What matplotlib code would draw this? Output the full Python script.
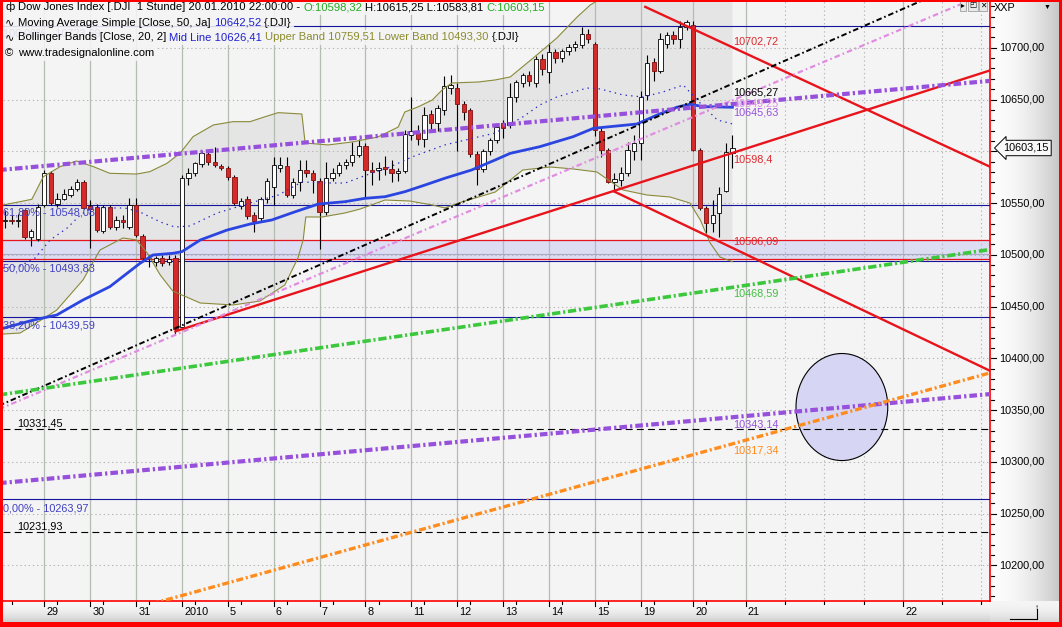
import numpy as np
import matplotlib
matplotlib.use("Agg")
import matplotlib.pyplot as plt
from matplotlib.patches import Rectangle, Ellipse
from matplotlib.transforms import blended_transform_factory as blend

W, H = 1062, 627
plt.rcParams['font.family'] = ['Liberation Sans', 'DejaVu Sans']
plt.rcParams['lines.scale_dashes'] = False
FS = 7.8
FS_LEG = 8.1

# x axis: one slot per hourly bar, slot 0 = first bar of 29 Dec 2009
day_slot = [0, 7, 14, 21, 28, 35, 42, 49, 56, 63, 70, 77, 84, 91, 99, 107, 131]
day_text = ['29', '30', '31', '2010', '5', '6', '7', '8', '11', '12', '13', '14',
            '15', '19', '20', '21', '22']
minor_slot = [-5, 2, 9, 16, 23, 30, 37, 44, 51, 58, 65, 72, 79, 86, 93, 101,
              113, 119, 125, 137, 143]
future_grid = [113, 119, 125, 137, 143]

# hourly candles of the Dow Jones index, 28 Dec 2009 - 20 Jan 2010
bar_slot = np.arange(-6, 106)
opn = [10533, 10534, 10533, 10543, 10517, 10515,
       10548, 10579, 10549, 10554, 10558, 10564, 10570,
       10547, 10546, 10523, 10546, 10527, 10534, 10527,
       10548, 10518, 10497, 10493, 10497, 10493, 10497,
       10430, 10574, 10579, 10588, 10597, 10590, 10586,
       10584, 10575, 10547, 10554, 10538, 10536, 10554,
       10565, 10584, 10586, 10558, 10570, 10582, 10579,
       10571, 10541, 10574, 10579, 10587, 10590, 10596,
       10605, 10582, 10582, 10585, 10583, 10579, 10581,
       10616, 10618, 10612, 10636, 10627, 10640, 10661,
       10661, 10646, 10640, 10597, 10583, 10600, 10611,
       10627, 10625, 10652, 10666, 10674, 10666, 10689,
       10677, 10696, 10690, 10697, 10701, 10703, 10713,
       10704, 10620, 10601, 10570, 10572, 10579, 10600,
       10608, 10654, 10686, 10678, 10704, 10712, 10708, 10720,
       10722, 10601, 10545, 10531, 10540, 10562, 10598.32]
hig = [10543, 10538, 10539, 10545, 10525, 10549,
       10582, 10581, 10560, 10564, 10566, 10573, 10572,
       10553, 10549, 10548, 10548, 10537, 10538, 10555,
       10555, 10520, 10500, 10499, 10500, 10500, 10500,
       10577, 10584, 10590, 10600, 10601, 10604, 10588,
       10586, 10577, 10555, 10557, 10541, 10556, 10574,
       10594, 10594, 10594, 10574, 10592, 10592, 10582,
       10574, 10590, 10584, 10590, 10593, 10609, 10612,
       10608, 10590, 10590, 10595, 10592, 10584, 10621,
       10652, 10625, 10643, 10640, 10645, 10673, 10674,
       10666, 10649, 10642, 10600, 10602, 10613, 10626,
       10630, 10666, 10669, 10676, 10678, 10692, 10694,
       10705, 10699, 10699, 10704, 10707, 10720, 10718,
       10706, 10623, 10603, 10579, 10585, 10609, 10616,
       10658, 10693, 10690, 10714, 10715, 10716, 10726, 10727,
       10726, 10603, 10547, 10553, 10565, 10608, 10615.25]
low = [10526, 10530, 10527, 10515, 10508, 10513,
       10546, 10548, 10546, 10553, 10556, 10562, 10544,
       10507, 10522, 10521, 10525, 10524, 10526, 10525,
       10517, 10495, 10488, 10489, 10489, 10490, 10423,
       10428, 10567, 10576, 10585, 10587, 10585, 10582,
       10572, 10548, 10544, 10535, 10522, 10533, 10550,
       10548, 10580, 10556, 10555, 10562, 10575, 10560,
       10506, 10538, 10571, 10576, 10583, 10586, 10594,
       10556, 10567, 10572, 10577, 10570, 10571, 10579,
       10611, 10606, 10604, 10620, 10620, 10635, 10655,
       10600, 10630, 10594, 10567, 10580, 10596, 10608,
       10613, 10622, 10648, 10662, 10663, 10662, 10674,
       10666, 10685, 10686, 10693, 10697, 10700, 10705,
       10615, 10594, 10569, 10561, 10566, 10576, 10592,
       10592, 10650, 10668, 10676, 10700, 10704, 10700, 10717,
       10600, 10543, 10521, 10522, 10517, 10561, 10583.81]
cls = [10534, 10533, 10534, 10517, 10523, 10546,
       10579, 10550, 10554, 10559, 10564, 10570, 10545,
       10544, 10524, 10546, 10527, 10534, 10532, 10548,
       10519, 10497, 10496, 10497, 10492, 10496, 10428,
       10574, 10579, 10589, 10598, 10590, 10587, 10584,
       10575, 10550, 10552, 10537, 10533, 10554, 10571,
       10587, 10587, 10558, 10570, 10582, 10579, 10572,
       10541, 10574, 10579, 10587, 10590, 10596, 10605,
       10582, 10580, 10584, 10583, 10579, 10581, 10617,
       10620, 10612, 10635, 10627, 10642, 10663, 10664,
       10646, 10638, 10597, 10583, 10600, 10611, 10623,
       10622, 10652, 10667, 10674, 10668, 10689, 10679,
       10696, 10690, 10697, 10701, 10704, 10713, 10708,
       10621, 10601, 10570, 10573, 10579, 10601, 10608,
       10652, 10685, 10678, 10708, 10712, 10708, 10720, 10725,
       10601, 10545, 10531, 10538, 10559, 10599, 10603.15]

# moving average 50
ma_slot = [-6.3, -1.7, 1.9, 5.9, 10.0, 14.6, 16.6, 19.6, 21.0, 23.8, 27.9, 31.4,
           34.7, 38.3, 41.8, 45.9, 48.9, 52.0, 55.0, 58.1, 61.1, 65.2, 68.8,
           71.1, 75.6, 80.7, 83.8, 90.4, 93.5, 96.5, 98.5, 100.6, 105]
ma_val = [10428.9, 10436.9, 10441.8, 10456.3, 10469.2, 10491.7, 10499.8, 10501.4,
          10503.0, 10514.3, 10523.9, 10529.7, 10533.6, 10541.6, 10549.0, 10551.3,
          10554.5, 10556.1, 10560.9, 10567.4, 10573.9, 10581.9, 10591.6, 10598.0,
          10604.4, 10614.1, 10622.2, 10626.3, 10635.0, 10642.5, 10645.4, 10643.1,
          10642.52]

# bollinger bands (20, 2)
bbu_slot = [-6.3, -3.7, -1.9, -0.15, 2.4, 4.9, 7.5, 10.0, 14.1, 16.1, 18.7, 20.7,
            22.7, 25.8, 28.8, 31.4, 33.7, 35.7, 39.3, 39.8, 43.3, 47.0, 50.9, 54.0,
            55.0, 57.0, 59.2, 60.7, 62.2, 66.2, 68.8, 71.1, 74.6, 78.2, 81.3, 83.3,
            85.9, 88, 92, 96, 99, 102, 105]
bbu_val = [10548.1, 10551.3, 10553.6, 10575.4, 10585.1, 10590.6, 10585.1, 10578.7,
           10578.0, 10580.3, 10588.3, 10598.0, 10614.1, 10625.4, 10628.6, 10628.6,
           10633.4, 10637.3, 10636.0, 10608.0, 10606.1, 10609.0, 10613.8, 10623.4,
           10637.9, 10642.8, 10649.5, 10659.2, 10666.0, 10666.9, 10668.9, 10671.8,
           10690.1, 10709.4, 10729.7, 10741.3, 10751, 10752, 10752, 10758, 10768,
           10764, 10759.51]
bbl_slot = [-6.3, -3.7, -1.7, 1.9, 5.9, 8.5, 12.0, 14.1, 15.7, 17.7, 19.6, 23.8,
            28.8, 32.9, 36.7, 38.7, 39.5, 39.9, 42.4, 45.9, 48.2, 52.0, 55.8, 59.2,
            61.1, 63.7, 68.8, 71.1, 73.0, 77.2, 80.7, 84.3, 88.3, 92.0, 95.5, 98.5,
            100.1, 101.6, 103.1, 105]
bbl_val = [10423.4, 10424.4, 10432.1, 10446.6, 10475.6, 10504.6, 10516.2, 10514.3,
           10501.7, 10480.4, 10465.0, 10453.4, 10451.5, 10455.3, 10470.8, 10496.9,
           10514.3, 10536.5, 10536.5, 10540.4, 10544.2, 10552.9, 10551.9, 10548.1,
           10545.2, 10551.0, 10560.6, 10572.2, 10581.9, 10584.8, 10582.9, 10580.0,
           10562.6, 10557.7, 10555.8, 10550.0, 10533.6, 10511.4, 10497.8, 10493.3]
bbm_slot = [-6.3, -3.7, -1.4, 0.9, 3.5, 5.5, 7.4, 10.0, 12.3, 14.6, 17.7, 19.9,
            22.2, 26.4, 31.4, 35.7, 39.3, 43.9, 45.9, 50.0, 52.4, 56.1, 61.1, 66.2,
            68.8, 73.0, 75.6, 78.2, 82.8, 84.8, 88.3, 91.4, 94.4, 97.5, 99.6, 102.7,
            105]
bbm_val = [10487.2, 10489.1, 10496.9, 10514.3, 10525.9, 10538.4, 10546.1, 10545.2,
           10545.2, 10541.3, 10531.7, 10526.8, 10527.8, 10540.4, 10550.0, 10557.7,
           10570.3, 10569.3, 10569.3, 10579.0, 10583.8, 10594.5, 10606.1, 10613.8,
           10617.6, 10633.1, 10644.7, 10652.4, 10661.1, 10660.2, 10654.4, 10652.4,
           10657.3, 10664.0, 10649.5, 10630.2, 10626.41]

# fibonacci levels and other horizontal lines
fib_val = [10721.0, 10548.08, 10493.83, 10439.59, 10263.97]
fib_text = ['100,00% - 10723,69', '61,80% - 10548,08', '50,00% - 10493,83',
            '38,20% - 10439,59', '0,00% - 10263,97']
dash_val = [10331.45, 10231.93]
zone_lo, zone_mid, zone_hi = 10496.0, 10500.4, 10514.3

# drawn trend lines: (slot0, slot1), (price0, price1)
red_up = ([20, 145], [10426, 10679.5])
red_dn_hi = ([91.7, 145], [10739.5, 10583])
red_dn_lo = ([87, 145], [10561, 10385.8])
black_line = ([-7, 145], [10354, 10776.4])
pink_line = ([-7, 145], [10350.6, 10755.8])
purple_hi = ([-7, 145], [10581.8, 10668.4])
purple_lo = ([-7, 145], [10279.3, 10365.8])
green_line = ([-7, 145], [10364.5, 10505.7])
orange_line = ([10, 145], [10151.6, 10387.1])

RED = '#e8141c'
PURPLE = '#9650dc'
GREEN = '#3cc83c'
ORANGE = '#ff8c1e'
PINK = '#e08ce0'
FIB = '#14149c'
FIBTXT = '#4040c0'

# ---------------------------------------------------------------- figure
fig = plt.figure(figsize=(W / 100, H / 100), dpi=100)
fig.patch.set_facecolor('white')


def grad_axes(x0, y0, x1, y1, horizontal, c0, c1):
    a = fig.add_axes([x0 / W, 1 - y1 / H, (x1 - x0) / W, (y1 - y0) / H])
    t = np.linspace(0, 1, 200)
    g = c0 + (c1 - c0) * t ** 2
    if horizontal:
        img = np.repeat(g[None, :, None], 3, axis=2)
    else:
        img = np.repeat(g[:, None, None], 3, axis=2)
    a.imshow(img, aspect='auto', extent=[0, 1, 1, 0], interpolation='bilinear')
    a.set_axis_off()
    a.set_zorder(0.5)
    return a


grad_axes(990, 2, 1059, 601, True, 0.99, 0.78)
grad_axes(3, 601, 990, 622, False, 0.97, 0.80)
grad_axes(990, 601, 1059, 622, False, 0.96, 0.84)

ax = fig.add_axes([3 / W, 1 - 601 / H, 987 / W, 599 / H])
ax.set_zorder(1)
ax.set_xlim(-6.30, 144.3)
ax.set_ylim(10165.5, 10744.2)
ax.set_facecolor('#f4f4f4')
ax.set_xticks([])
ax.set_yticks([])
for s in ('top', 'left'):
    ax.spines[s].set_visible(False)
for s in ('right', 'bottom'):
    ax.spines[s].set_color('red')
    ax.spines[s].set_linewidth(1.2)

# bollinger shading
ax.fill(np.concatenate([bbu_slot, bbl_slot[::-1]]),
        np.concatenate([bbu_val, bbl_val[::-1]]),
        color='#e5e5e5', lw=0, zorder=1)

# grid
ax.hlines(np.arange(10200, 10701, 50), -10, 150, colors='#b8b8b8',
          linestyles=(0, (1, 2)), lw=0.8, zorder=2)
ax.vlines(day_slot, 10100, 10800, colors='#b4bcb4', lw=0.9, zorder=2)
ax.vlines(future_grid, 10100, 10800, colors='#b8b8b8', linestyles=(0, (1, 2)),
          lw=0.8, zorder=2)

# zone
ax.axhspan(zone_lo, zone_hi, color='#dcdcf2', lw=0, zorder=1.5)
ax.axhline(zone_hi, color=RED, lw=0.9, zorder=2.6)
ax.axhline(zone_lo, color=RED, lw=0.9, zorder=2.6)
ax.axhline(zone_mid, color='#a8a8c8', lw=0.8, zorder=2.6)

# fibonacci / horizontal
for v in fib_val:
    ax.axhline(v, color=FIB, lw=0.8, zorder=3)
for v in dash_val:
    ax.axhline(v, color='black', lw=0.8, dashes=(5, 3), zorder=3)

# target ellipse
ax.add_patch(Ellipse((121.7, 10352.9), 14.0, 103.4, fc='#d6d6f4', ec='black',
                     lw=0.8, zorder=2.5))

# candles
o = np.array(opn); h = np.array(hig); l = np.array(low); c = np.array(cls)
assert len(o) == len(bar_slot) == len(h) == len(l) == len(c)
up = c >= o
ax.vlines(bar_slot, l, h, colors='black', lw=0.8, zorder=4)
ax.bar(bar_slot, np.maximum(np.abs(c - o), 0.9), bottom=np.minimum(o, c),
       width=0.66, color=np.where(up, 'white', '#d42a2a'),
       edgecolor=np.where(up, 'black', '#801010'), lw=0.6, zorder=4.1)

# indicators
ax.plot(bbu_slot, bbu_val, color='#8a8a3a', lw=0.8, zorder=5)
ax.plot(bbl_slot, bbl_val, color='#8a8a3a', lw=0.8, zorder=5)
ax.plot(bbm_slot, bbm_val, color='#2828c8', lw=0.9, dashes=(1, 3), zorder=5)
ax.plot(ma_slot, ma_val, color='#2b45e0', lw=2.0, zorder=5.5)

# trend lines
for ln in (red_up, red_dn_hi, red_dn_lo):
    ax.plot(*ln, color=RED, lw=1.7, zorder=6)
ax.plot(*black_line, color='black', lw=1.4, dashes=(4, 2, 1.2, 2), zorder=6)
ax.plot(*pink_line, color=PINK, lw=1.6, dashes=(4, 2.2, 1.2, 2.2), zorder=6)
ax.plot(*purple_hi, color=PURPLE, lw=3.0, dashes=(5.5, 2.2, 1.6, 2.2),
        dash_capstyle='butt', zorder=6)
ax.plot(*purple_lo, color=PURPLE, lw=3.0, dashes=(5.5, 2.2, 1.6, 2.2),
        dash_capstyle='butt', zorder=6)
ax.plot(*green_line, color=GREEN, lw=2.6, dashes=(6, 2, 1.5, 2),
        dash_capstyle='butt', zorder=6)
ax.plot(*orange_line, color=ORANGE, lw=2.4, dashes=(5, 2, 1.5, 2),
        dash_capstyle='butt', zorder=6)

# value labels at the last bar
lab_x = 105.15
for txt, y, col in [('10702,72', 10705.6, '#e0282e'), ('10665,27', 10656.3, 'black'),
                    ('10649,25', 10646.5, PINK), ('10645,63', 10637.0, PURPLE),
                    ('10598,4', 10591.6, '#e0282e'), ('10506,09', 10512.8, '#e0282e'),
                    ('10468,59', 10462.6, '#40c040'), ('10343,14', 10336.5, PURPLE),
                    ('10317,34', 10311.3, ORANGE)]:
    ax.text(lab_x, y, txt, color=col, fontsize=FS, va='center', ha='left', zorder=7)

fib_y = [10713.3, 10540.8, 10486.7, 10432.1, 10255.0]
for txt, y in zip(fib_text, fib_y):
    ax.text(-6.25, y, txt, color=FIBTXT, fontsize=FS, va='center', ha='left', zorder=7)
ax.text(-4.2, 10337.2, '10331,45', color='black', fontsize=FS, va='center', zorder=7)
ax.text(-4.2, 10237.3, '10231,93', color='black', fontsize=FS, va='center', zorder=7)

# right price axis (the 10600 label sits under the last price box)
tr_r = blend(fig.transFigure, ax.transData)
for v in range(10170, 10741, 10):
    major = v % 50 == 0
    ax.plot([991 / W, (996 if major else 993.5) / W], [v, v], color='black', lw=0.8,
            transform=tr_r, clip_on=False, zorder=6)
    if major and 10200 <= v <= 10700 and v != 10600:
        ax.text(999 / W, v, f'{v},00', transform=tr_r, fontsize=FS, va='center',
                ha='left', zorder=7)
ax.annotate('10603,15', xy=(1003 / W, 10603.15), xycoords=tr_r, fontsize=FS,
            va='center', ha='left', zorder=8,
            bbox=dict(boxstyle='larrow,pad=0.25', fc='#f8f8f8', ec='black', lw=0.7))

# bottom time axis
tr_b = blend(ax.transData, fig.transFigure)
for s, t in zip(day_slot, day_text):
    ax.plot([s, s], [1 - 601 / H, 1 - 606 / H], color='black', lw=0.8,
            transform=tr_b, clip_on=False)
    ax.text(s + 0.35, 1 - 612 / H, t, transform=tr_b, fontsize=FS, va='center',
            ha='left')
for s in minor_slot:
    ax.plot([s, s], [1 - 601 / H, 1 - 604 / H], color='black', lw=0.8,
            transform=tr_b, clip_on=False)

# header texts
fig.text(994 / W, 1 - 8 / H, 'XXP', fontsize=FS, va='center', ha='left', zorder=3)
fig.text(1047 / W, 1 - 7 / H, '▼', fontsize=5, va='center', ha='center', zorder=3)
for xx, sym in [(963, '▸'), (973, '◰'), (983, '✕')]:
    fig.text(xx / W, 1 - 6 / H, sym, fontsize=5.5, va='center', ha='center', zorder=3,
             bbox=dict(boxstyle='square,pad=0.15', fc='#e8e8e8', ec='#909090', lw=0.5))

# bottom right corner icon
fig.add_artist(plt.Line2D([1010 / W, 1037 / W], [1 - 619 / H, 1 - 619 / H],
                          color='black', lw=0.8, zorder=3))
fig.add_artist(plt.Line2D([1037 / W, 1037 / W], [1 - 619 / H, 1 - 609 / H],
                          color='black', lw=0.8, zorder=3))
fig.text(1037 / W, 1 - 608 / H, '↑', fontsize=6, va='center', ha='center', zorder=3)

# legend lines (multi coloured)
fig.canvas.draw()
rend = fig.canvas.get_renderer()


def text_w(s, size):
    t = fig.text(0, 0, s, fontsize=size)
    w = t.get_window_extent(rend).width
    t.remove()
    return w


def adv(s, size=FS_LEG):
    return text_w('|' + s + '|', size) - text_w('||', size)


def chain(x, y, parts, size=FS_LEG):
    for s, col in parts:
        lead = len(s) - len(s.lstrip(' '))
        trail = len(s) - len(s.rstrip(' '))
        core = s.strip(' ')
        if lead:
            x += adv(' ' * lead, size)
        fig.text(x / W, 1 - y / H, core, color=col, fontsize=size, va='center',
                 ha='left', zorder=3)
        x += adv(core, size)
        if trail:
            x += adv(' ' * trail, size)
    return x


BLUE_T = '#2020d0'
OLIVE_T = '#8c8c30'
GREEN_T = '#22aa22'
legend = [
    (7, 'ф', [('Dow Jones Index [.DJI  1 Stunde] 20.01.2010 22:00:00 - ', 'black'),
              ('O:10598,32', GREEN_T), (' H:10615,25 L:10583,81 ', 'black'),
              ('C:10603,15', GREEN_T)]),
    (22.5, '∿', [('Moving Average Simple [Close, 50, Ja] ', 'black'),
                 ('10642,52', BLUE_T), (' {.DJI}', 'black')]),
    (37.5, '∿', [('Bollinger Bands [Close, 20, 2] ', 'black'),
                 ('Mid Line 10626,41', BLUE_T),
                 (' Upper Band 10759,51 Lower Band 10493,30', OLIVE_T),
                 (' {.DJI}', 'black')]),
    (53, '©', [('www.tradesignalonline.com', 'black')]),
]
for y, icon, parts in legend:
    fig.text(5 / W, 1 - y / H, icon, fontsize=FS_LEG, va='center', ha='left', zorder=3)
    x_end = chain(18, y, parts)
    fig.add_artist(Rectangle((3 / W, 1 - (y + 7.5) / H), (x_end - 1) / W, 15 / H,
                             transform=fig.transFigure, fc='#f4f4f4', ec='none',
                             alpha=0.88, zorder=2))

# red frame
for x0, y0, w, hh in [(0, 0, 3, H), (0, 0, W, 2), (1059, 0, 3, H), (0, 622, W, 5)]:
    fig.add_artist(Rectangle((x0 / W, 1 - (y0 + hh) / H), w / W, hh / H,
                             transform=fig.transFigure, fc='red', ec='none', zorder=5))

fig.savefig('out.png', dpi=100)
